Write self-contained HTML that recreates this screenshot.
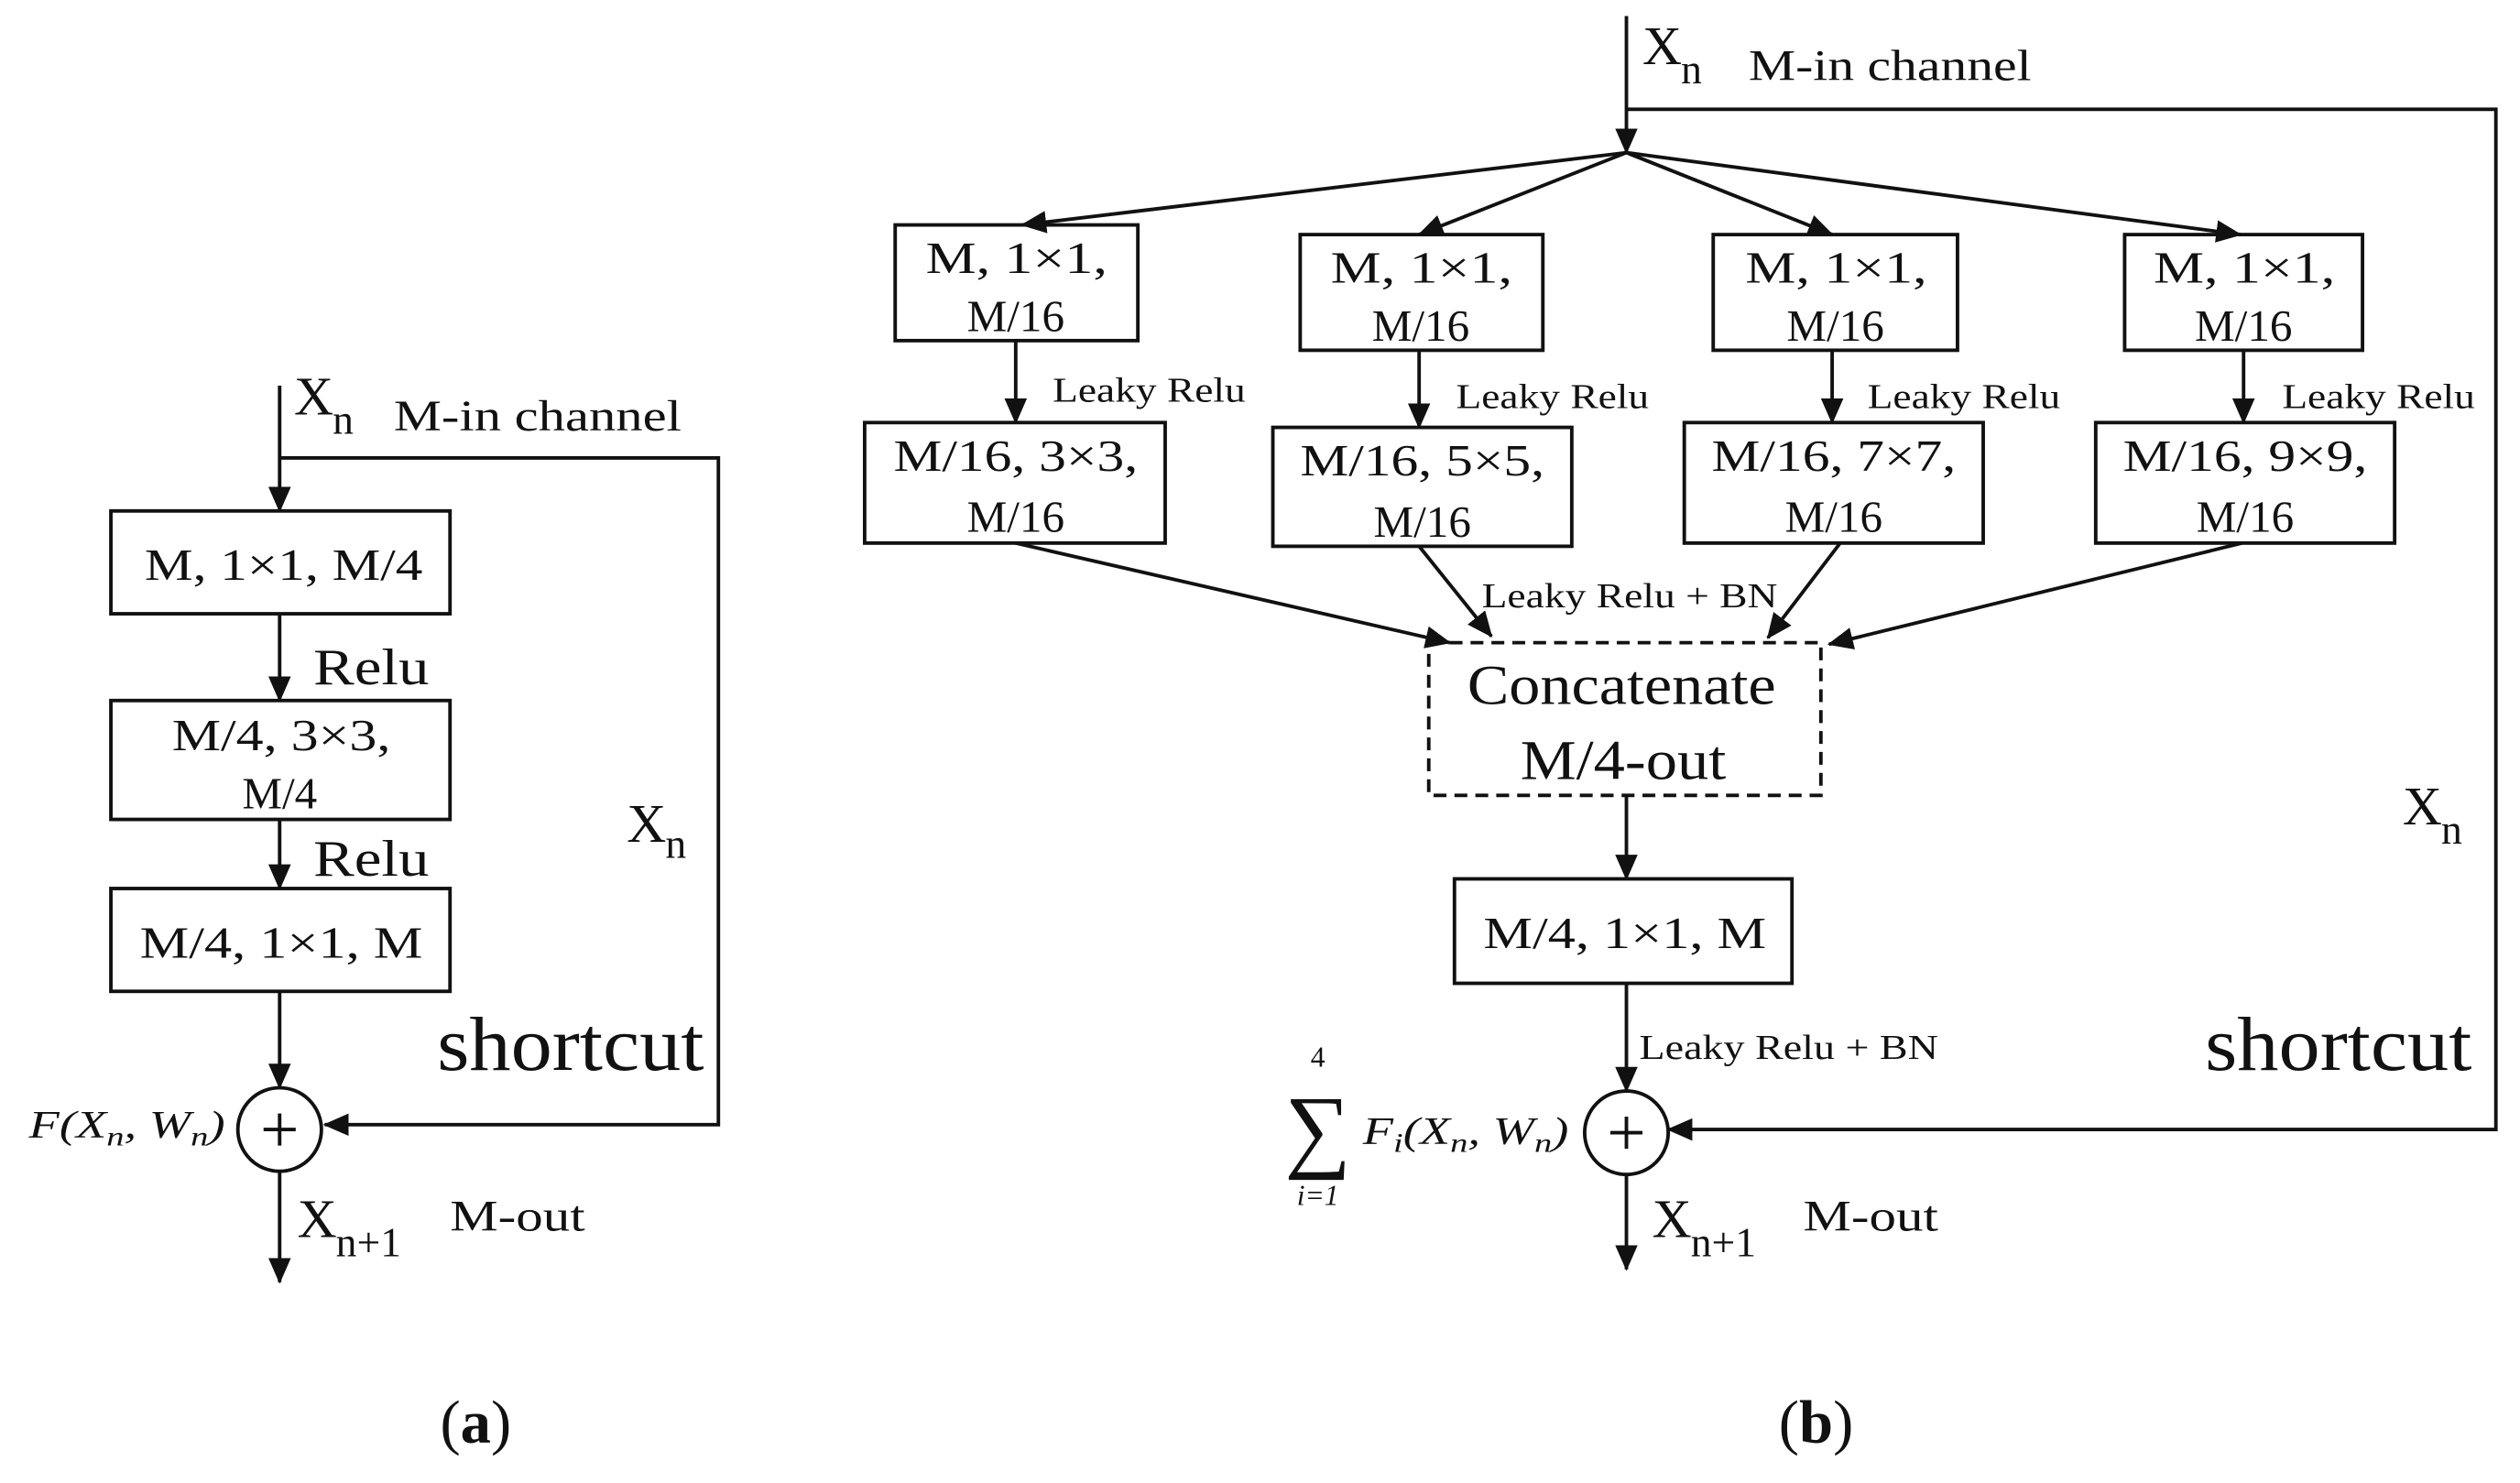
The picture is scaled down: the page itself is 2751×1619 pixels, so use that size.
<!DOCTYPE html>
<html><head><meta charset="utf-8"><style>
html,body{margin:0;padding:0;background:#fff;}
svg{display:block;}
text{font-family:"Liberation Serif","Noto Serif CJK SC",serif;fill:#111;}
</style></head><body>
<svg width="2751" height="1619" viewBox="0 0 1568 923" preserveAspectRatio="none" xmlns="http://www.w3.org/2000/svg">
<defs>
<marker id="b" markerWidth="16" markerHeight="16" refX="15" refY="8" orient="auto" markerUnits="userSpaceOnUse" viewBox="0 0 16 16"><path d="M0,1 L16,8 L0,15 z" fill="#111"/></marker></defs>
<g stroke="#111" stroke-width="2.2" fill="none">
<line x1="174" y1="240" x2="174" y2="318" marker-end="url(#b)"/>
<polyline points="174,285 447,285 447,700 202,700" marker-end="url(#b)"/>
<rect x="69" y="318" width="211" height="64"/>
<line x1="174" y1="382" x2="174" y2="436" marker-end="url(#b)"/>
<rect x="69" y="436" width="211" height="74"/>
<line x1="174" y1="510" x2="174" y2="553" marker-end="url(#b)"/>
<rect x="69" y="553" width="211" height="64"/>
<line x1="174" y1="617" x2="174" y2="677" marker-end="url(#b)"/>
<circle cx="174" cy="703" r="26"/>
<line x1="164" y1="703" x2="184" y2="703"/><line x1="174" y1="693" x2="174" y2="713"/>
<line x1="174" y1="729" x2="174" y2="798" marker-end="url(#b)"/>
<line x1="1012" y1="10" x2="1012" y2="95" marker-end="url(#b)"/>
<polyline points="1012,68 1553,68 1553,703 1038,703" marker-end="url(#b)"/>
<line x1="1012" y1="95" x2="636" y2="140" marker-end="url(#b)"/>
<line x1="1012" y1="95" x2="883" y2="146" marker-end="url(#b)"/>
<line x1="1012" y1="95" x2="1140" y2="146" marker-end="url(#b)"/>
<line x1="1012" y1="95" x2="1394" y2="146" marker-end="url(#b)"/>
<rect x="557" y="140" width="151" height="72"/>
<rect x="809" y="146" width="151" height="72"/>
<rect x="1066" y="146" width="152" height="72"/>
<rect x="1322" y="146" width="148" height="72"/>
<line x1="632" y1="212" x2="632" y2="263" marker-end="url(#b)"/>
<line x1="883" y1="218" x2="883" y2="266" marker-end="url(#b)"/>
<line x1="1140" y1="218" x2="1140" y2="263" marker-end="url(#b)"/>
<line x1="1396" y1="218" x2="1396" y2="263" marker-end="url(#b)"/>
<rect x="538" y="263" width="187" height="75"/>
<rect x="792" y="266" width="186" height="74"/>
<rect x="1048" y="263" width="186" height="75"/>
<rect x="1304" y="263" width="186" height="75"/>
<line x1="632" y1="338" x2="902" y2="400" marker-end="url(#b)"/>
<line x1="883" y1="340" x2="928" y2="396" marker-end="url(#b)"/>
<line x1="1145" y1="338" x2="1100" y2="397" marker-end="url(#b)"/>
<line x1="1395" y1="338" x2="1138" y2="401" marker-end="url(#b)"/>
<rect x="889" y="400" width="244" height="95" stroke-dasharray="8,5"/>
<line x1="1012" y1="495" x2="1012" y2="547" marker-end="url(#b)"/>
<rect x="905" y="547" width="210" height="65"/>
<line x1="1012" y1="612" x2="1012" y2="679" marker-end="url(#b)"/>
<circle cx="1012" cy="705" r="26"/>
<line x1="1002" y1="705" x2="1022" y2="705"/><line x1="1012" y1="695" x2="1012" y2="715"/>
<line x1="1012" y1="731" x2="1012" y2="790" marker-end="url(#b)"/>
</g>
<text x="183" y="258" font-size="34">X</text><text x="207" y="270" font-size="26">n</text>
<text x="245" y="268" font-size="27" textLength="179" lengthAdjust="spacingAndGlyphs">M-in channel</text>
<text x="90" y="361" font-size="28" textLength="173" lengthAdjust="spacingAndGlyphs">M, 1×1, M/4</text>
<text x="195" y="426" font-size="32" textLength="72" lengthAdjust="spacingAndGlyphs">Relu</text>
<text x="107" y="467" font-size="28" textLength="136" lengthAdjust="spacingAndGlyphs">M/4, 3×3,</text>
<text x="174" y="503" font-size="28" text-anchor="middle">M/4</text>
<text x="195" y="545" font-size="32" textLength="72" lengthAdjust="spacingAndGlyphs">Relu</text>
<text x="87" y="596" font-size="28" textLength="176" lengthAdjust="spacingAndGlyphs">M/4, 1×1, M</text>
<text x="390" y="524" font-size="34">X</text><text x="414" y="534" font-size="26">n</text>
<text x="272" y="666" font-size="48" textLength="166" lengthAdjust="spacingAndGlyphs">shortcut</text>
<text x="18" y="708" font-size="24" font-style="italic" textLength="122" lengthAdjust="spacingAndGlyphs">F(X<tspan font-size="17" dy="5">n</tspan><tspan dy="-5">, W</tspan><tspan font-size="17" dy="5">n</tspan><tspan dy="-5">)</tspan></text>
<text x="185" y="770" font-size="34">X</text><text x="209" y="782" font-size="26">n+1</text>
<text x="280" y="766" font-size="27" textLength="84" lengthAdjust="spacingAndGlyphs">M-out</text>
<text x="296" y="898" font-size="38" text-anchor="middle">(<tspan font-weight="bold">a</tspan>)</text>
<text x="1022" y="40" font-size="34">X</text><text x="1046" y="52" font-size="26">n</text>
<text x="1088" y="50" font-size="27" textLength="176" lengthAdjust="spacingAndGlyphs">M-in channel</text>
<g font-size="28">
<text x="576" y="170" textLength="113" lengthAdjust="spacingAndGlyphs">M, 1×1,</text><text x="632" y="206" text-anchor="middle">M/16</text>
<text x="828" y="176" textLength="113" lengthAdjust="spacingAndGlyphs">M, 1×1,</text><text x="884" y="212" text-anchor="middle">M/16</text>
<text x="1086" y="176" textLength="113" lengthAdjust="spacingAndGlyphs">M, 1×1,</text><text x="1142" y="212" text-anchor="middle">M/16</text>
<text x="1340" y="176" textLength="113" lengthAdjust="spacingAndGlyphs">M, 1×1,</text><text x="1396" y="212" text-anchor="middle">M/16</text>
<text x="556" y="293" textLength="152" lengthAdjust="spacingAndGlyphs">M/16, 3×3,</text><text x="632" y="331" text-anchor="middle">M/16</text>
<text x="809" y="296" textLength="152" lengthAdjust="spacingAndGlyphs">M/16, 5×5,</text><text x="885" y="334" text-anchor="middle">M/16</text>
<text x="1065" y="293" textLength="152" lengthAdjust="spacingAndGlyphs">M/16, 7×7,</text><text x="1141" y="331" text-anchor="middle">M/16</text>
<text x="1321" y="293" textLength="152" lengthAdjust="spacingAndGlyphs">M/16, 9×9,</text><text x="1397" y="331" text-anchor="middle">M/16</text>
<text x="923" y="590" textLength="176" lengthAdjust="spacingAndGlyphs">M/4, 1×1, M</text>
</g>
<g font-size="22">
<text x="655" y="250" textLength="120" lengthAdjust="spacingAndGlyphs">Leaky Relu</text>
<text x="906" y="254" textLength="120" lengthAdjust="spacingAndGlyphs">Leaky Relu</text>
<text x="1162" y="254" textLength="120" lengthAdjust="spacingAndGlyphs">Leaky Relu</text>
<text x="1420" y="254" textLength="120" lengthAdjust="spacingAndGlyphs">Leaky Relu</text>
<text x="922" y="378" textLength="184" lengthAdjust="spacingAndGlyphs">Leaky Relu + BN</text>
<text x="1020" y="659" textLength="186" lengthAdjust="spacingAndGlyphs">Leaky Relu + BN</text>
</g>
<text x="913" y="438" font-size="35" textLength="192" lengthAdjust="spacingAndGlyphs">Concatenate</text>
<text x="946" y="485" font-size="35" textLength="128" lengthAdjust="spacingAndGlyphs">M/4-out</text>
<text x="820" y="664" font-size="18" text-anchor="middle">4</text>
<text x="820" y="722" font-size="58" text-anchor="middle">∑</text>
<text x="820" y="750" font-size="18" text-anchor="middle" font-style="italic">i=1</text>
<text x="848" y="712" font-size="24" font-style="italic" textLength="128" lengthAdjust="spacingAndGlyphs">F<tspan font-size="17" dy="5">i</tspan><tspan dy="-5">(X</tspan><tspan font-size="17" dy="5">n</tspan><tspan dy="-5">, W</tspan><tspan font-size="17" dy="5">n</tspan><tspan dy="-5">)</tspan></text>
<text x="1028" y="770" font-size="34">X</text><text x="1052" y="782" font-size="26">n+1</text>
<text x="1122" y="766" font-size="27" textLength="84" lengthAdjust="spacingAndGlyphs">M-out</text>
<text x="1495" y="513" font-size="34">X</text><text x="1519" y="525" font-size="26">n</text>
<text x="1372" y="666" font-size="48" textLength="166" lengthAdjust="spacingAndGlyphs">shortcut</text>
<text x="1130" y="898" font-size="38" text-anchor="middle">(<tspan font-weight="bold">b</tspan>)</text>
</svg>
</body></html>
